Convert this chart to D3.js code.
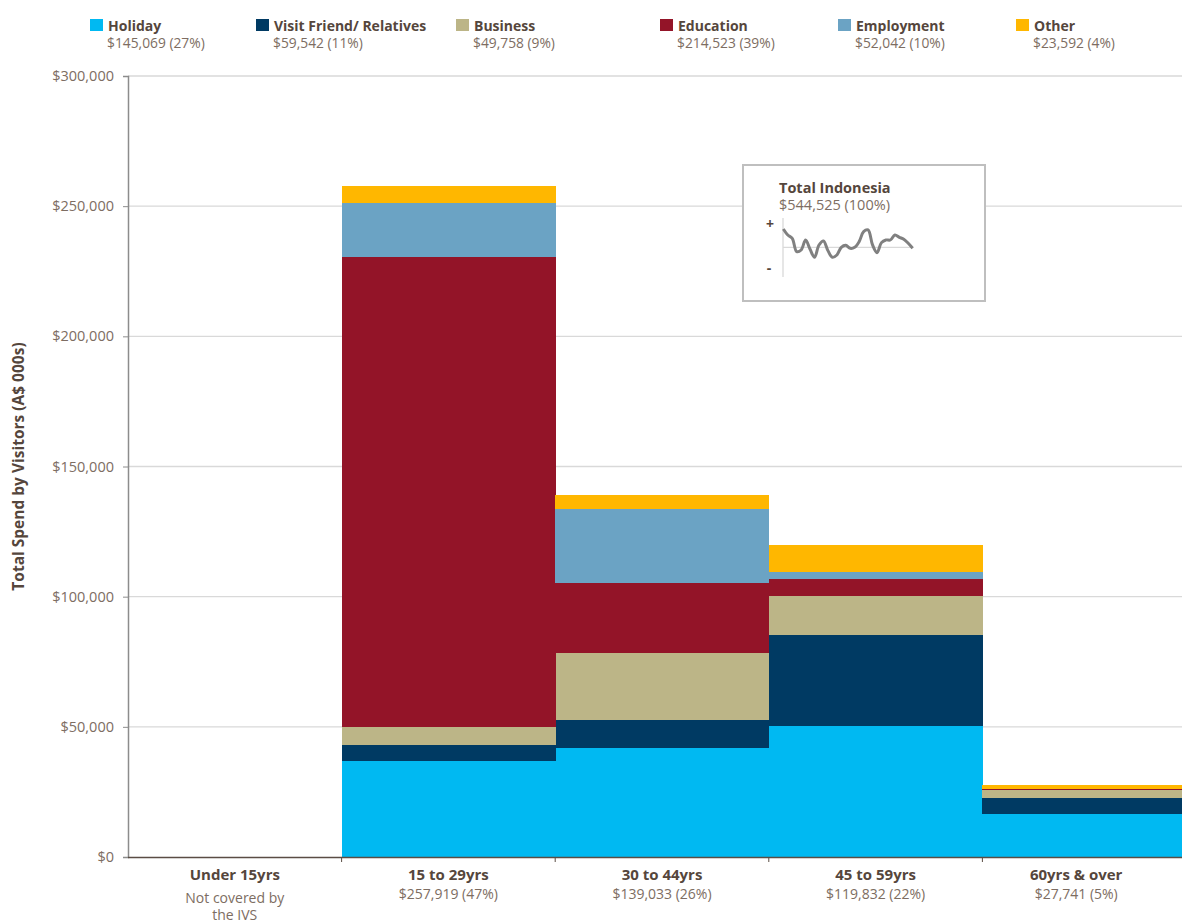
<!DOCTYPE html>
<html><head><meta charset="utf-8">
<script src="https://cdn.jsdelivr.net/npm/d3@7"></script>
<style>body{margin:0;background:#fff}svg{display:block}text{font-family:"Open Sans",sans-serif}</style>
</head><body><svg id="c" width="1182" height="924"></svg>
<script>
const categories = ["Under 15yrs","15 to 29yrs","30 to 44yrs","45 to 59yrs","60yrs & over"];
const catSub = [["Not covered by","the IVS"],["$257,919 (47%)"],["$139,033 (26%)"],["$119,832 (22%)"],["$27,741 (5%)"]];
const seriesNames = ["Holiday","Visit Friend/ Relatives","Business","Education","Employment","Other"];
const seriesTotals = ["$145,069 (27%)","$59,542 (11%)","$49,758 (9%)","$214,523 (39%)","$52,042 (10%)","$23,592 (4%)"];
const colors = ["#00b9f2","#003a63","#bcb587","#931428","#6ba3c4","#ffb700"];
const holiday    = [0, 36900, 41700, 50300, 16400];
const vfr        = [0, 6300, 10900, 35000, 6400];
const business   = [0, 6700, 25800, 15000, 3000];
const education  = [0, 180600, 26900, 6600, 300];
const employment = [0, 20900, 28400, 2500, 200];
const other      = [0, 6519, 5333, 10432, 1441];
const yTicks = [0,50000,100000,150000,200000,250000,300000];
const sparkValues = [55,37,27,-13,-8,22,-6,-30,7,19,-10,-30,-23,0,6,-3,0,17,47,52,7,-16,14,22,22,37,30,24,12,-3];

(function(){
const svg = d3.select("#c");
const W = 1182, pLeft = 128, pTop = 76, pBottom = 857;
const x = d3.scaleBand().domain(categories).range([pLeft, pLeft + 5*213.6]).padding(0);
const y = d3.scaleLinear().domain([0,300000]).range([pBottom, pTop]);
const dark = "#55463c", light = "#7d6d62";

svg.append("g").selectAll("line").data(yTicks.slice(1)).join("line")
  .attr("x1", pLeft).attr("x2", W).attr("y1", d=>y(d)).attr("y2", d=>y(d))
  .attr("stroke","#d9d9d9").attr("stroke-width",1.3);

const rows = categories.map((c,i)=>({cat:c, Holiday:holiday[i], "Visit Friend/ Relatives":vfr[i], Business:business[i], Education:education[i], Employment:employment[i], Other:other[i]}));
const stack = d3.stack().keys(seriesNames)(rows);
svg.append("clipPath").attr("id","pc").append("rect").attr("x",0).attr("y",0).attr("width",W).attr("height",pBottom);
svg.append("g").attr("clip-path","url(#pc)").attr("shape-rendering","crispEdges").selectAll("g").data(stack).join("g")
  .attr("fill",(d,i)=>colors[i])
  .selectAll("rect").data(d=>d).join("rect")
  .attr("x", d=>x(d.data.cat)).attr("width", x.bandwidth()+0.5)
  .attr("y", d=>y(d[1])).attr("height", d=>Math.max(0,y(d[0])-y(d[1])));

const ya = svg.append("g").attr("transform",`translate(${pLeft},0)`)
  .call(d3.axisLeft(y).tickValues(yTicks).tickFormat(d=>"$"+d3.format(",")(d)).tickSize(5).tickPadding(9));
ya.select(".domain").attr("stroke","#8c8c8c").attr("stroke-width",1.5);
ya.selectAll(".tick line").attr("stroke","#8c8c8c");
ya.selectAll("text").attr("fill",light).style("font-size","14.5px").style("font-family","'Open Sans',sans-serif");

svg.append("line").attr("x1",pLeft).attr("x2",W).attr("y1",pBottom+0.5).attr("y2",pBottom+0.5).attr("stroke","#5a4d44").attr("stroke-width",1.5);
svg.append("g").selectAll("line").data(categories.slice(1)).join("line")
  .attr("x1",d=>x(d)).attr("x2",d=>x(d)).attr("y1",pBottom).attr("y2",pBottom+5).attr("stroke","#5a4d44");
const cx = c => { const s = x(c), e = Math.min(x(c)+x.bandwidth(), W); return (s+e)/2 - (e<x(c)+x.bandwidth()?6:0); };
const lab = svg.append("g").selectAll("g").data(categories).join("g");
lab.append("text").attr("x",d=>cx(d)).attr("y",880).attr("text-anchor","middle")
  .attr("fill",dark).style("font-size","15px").style("font-weight","bold").text(d=>d);
lab.each(function(d,i){
  catSub[i].forEach((t,j)=>{
    d3.select(this).append("text").attr("x",cx(d)).attr("y",j==0?(i==0?903:899):920).attr("text-anchor","middle")
      .attr("fill",light).style("font-size","14px").text(t);
  });
});

svg.append("text").attr("transform",`translate(24,${(pTop+pBottom)/2}) rotate(-90)`).attr("text-anchor","middle")
  .attr("fill",dark).style("font-size","15.5px").style("font-weight","bold").text("Total Spend by Visitors (A$ 000s)");

const legX = [90,256,456,660,838,1016];
const lg = svg.append("g").selectAll("g").data(seriesNames).join("g").attr("transform",(d,i)=>`translate(${legX[i]},0)`);
lg.append("rect").attr("x",0).attr("y",19).attr("width",13).attr("height",12).attr("fill",(d,i)=>colors[i]);
lg.append("text").attr("x",18).attr("y",31).attr("fill",dark).style("font-size","14px").style("font-weight","bold").text(d=>d);
lg.append("text").attr("x",17).attr("y",48).attr("fill",light).style("font-size","13.8px").text((d,i)=>seriesTotals[i]);

const ins = svg.append("g");
ins.append("rect").attr("x",743).attr("y",165).attr("width",242).attr("height",136).attr("fill","#fff").attr("stroke","#bfbfbf").attr("stroke-width",2);
ins.append("text").attr("x",779).attr("y",193).attr("fill",dark).style("font-size","14.5px").style("font-weight","bold").text("Total Indonesia");
ins.append("text").attr("x",779).attr("y",210).attr("fill",light).style("font-size","14.5px").text("$544,525 (100%)");
const sx = d3.scaleLinear().domain([0,sparkValues.length-1]).range([783.3,912.7]);
const sy = d3.scaleLinear().domain([-80,80]).range([274,220.6]);
ins.append("line").attr("x1",783).attr("x2",783).attr("y1",218).attr("y2",277).attr("stroke","#d9d9d9").attr("stroke-width",1.3);
ins.append("line").attr("x1",783).attr("x2",912).attr("y1",sy(0)).attr("y2",sy(0)).attr("stroke","#d9d9d9").attr("stroke-width",1.3);
ins.append("text").attr("x",770).attr("y",229).attr("text-anchor","middle").attr("fill",dark).style("font-size","14px").style("font-weight","bold").text("+");
ins.append("text").attr("x",769).attr("y",273).attr("text-anchor","middle").attr("fill",dark).style("font-size","14px").style("font-weight","bold").text("-");
ins.append("path").datum(sparkValues).attr("fill","none").attr("stroke","#808080").attr("stroke-width",3).attr("stroke-linejoin","round")
  .attr("d", d3.line().x((d,i)=>sx(i)).y(d=>sy(d)).curve(d3.curveCatmullRom.alpha(0.5)));
})();
</script></body></html>
